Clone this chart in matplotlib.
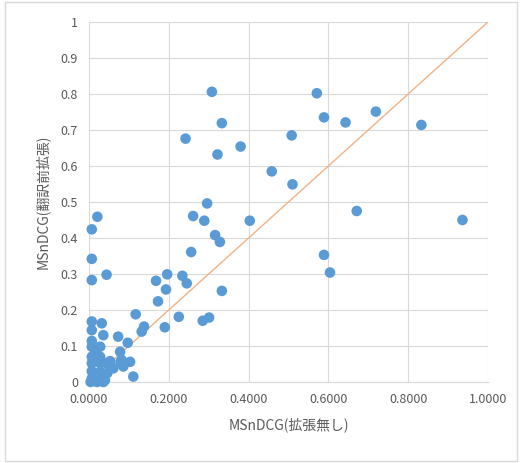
import numpy as np
import matplotlib.pyplot as plt
from matplotlib.patches import Rectangle

plt.rcParams['font.family'] = ['Noto Sans CJK JP', 'DejaVu Sans']

# MSnDCG values
x_vals = [0.308, 0.571, 0.719, 0.333, 0.589, 0.643, 0.242, 0.508, 0.380, 0.322,
          0.458, 0.510, 0.671, 0.296, 0.261, 0.289, 0.403, 0.316, 0.328, 0.256,
          0.589, 0.604, 0.333, 0.833, 0.936,
          0.021, 0.007, 0.007, 0.044, 0.007,
          0.168, 0.196, 0.234, 0.245, 0.193, 0.173,
          0.117, 0.225, 0.285, 0.301, 0.190, 0.138, 0.132,
          0.007, 0.032, 0.007, 0.036, 0.073, 0.007, 0.097, 0.028, 0.007,
          0.078, 0.007, 0.028, 0.007, 0.028, 0.044, 0.082, 0.103, 0.086,
          0.061, 0.007, 0.028, 0.046, 0.007, 0.028, 0.040, 0.111,
          0.004, 0.020, 0.036, 0.015, 0.053, 0.079]
y_vals = [0.806, 0.802, 0.751, 0.719, 0.735, 0.721, 0.676, 0.685, 0.654, 0.632,
          0.585, 0.549, 0.475, 0.496, 0.461, 0.448, 0.448, 0.408, 0.389, 0.361,
          0.353, 0.304, 0.253, 0.714, 0.450,
          0.459, 0.424, 0.342, 0.298, 0.283,
          0.281, 0.299, 0.295, 0.274, 0.257, 0.224,
          0.188, 0.181, 0.170, 0.179, 0.152, 0.154, 0.140,
          0.168, 0.163, 0.144, 0.130, 0.126, 0.114, 0.109, 0.098, 0.098,
          0.084, 0.070, 0.070, 0.052, 0.052, 0.052, 0.061, 0.056, 0.043,
          0.038, 0.030, 0.028, 0.025, 0.010, 0.008, 0.005, 0.015,
          0.000, 0.000, 0.000, 0.090, 0.058, 0.056]
diag = [0, 1]

x_ticks = [0.0, 0.2, 0.4, 0.6, 0.8, 1.0]
y_ticks = [0.0, 0.1, 0.2, 0.3, 0.4, 0.5, 0.6, 0.7, 0.8, 0.9, 1.0]

fig = plt.figure(figsize=(5.31, 4.63), dpi=100)
ax = fig.add_axes([0.1676, 0.175, 0.7514, 0.7775])

ax.plot(diag, diag, color='#F4B183', linewidth=1.0, zorder=2)
ax.scatter(x_vals, y_vals, s=58, color='#5B9BD5', edgecolors='none',
           zorder=3, clip_on=False)

ax.set_xlim(0, 1)
ax.set_ylim(0, 1)
ax.set_xticks(x_ticks)
ax.set_yticks(y_ticks)
ax.set_xticklabels(['%.4f' % v for v in x_ticks])
ax.set_yticklabels(['%g' % v for v in y_ticks])
ax.tick_params(length=0, colors='#595959', labelsize=9, pad=8)
ax.grid(True, color='#D9D9D9', linewidth=0.8)
ax.set_axisbelow(True)
for s in ['top', 'right', 'left']:
    ax.spines[s].set_visible(False)
ax.spines['bottom'].set_color('#D9D9D9')

ax.set_xlabel('MSnDCG(拡張無し)', color='#595959', fontsize=10, labelpad=8)
ax.set_ylabel('MSnDCG(翻訳前拡張)', color='#595959', fontsize=10, labelpad=8)

fig.patches.append(Rectangle((5 / 531, 1 - 461 / 463), 512 / 531, 459 / 463,
                             transform=fig.transFigure, fill=False,
                             edgecolor='#D9D9D9', linewidth=1))

plt.savefig('out.png', dpi=100)
